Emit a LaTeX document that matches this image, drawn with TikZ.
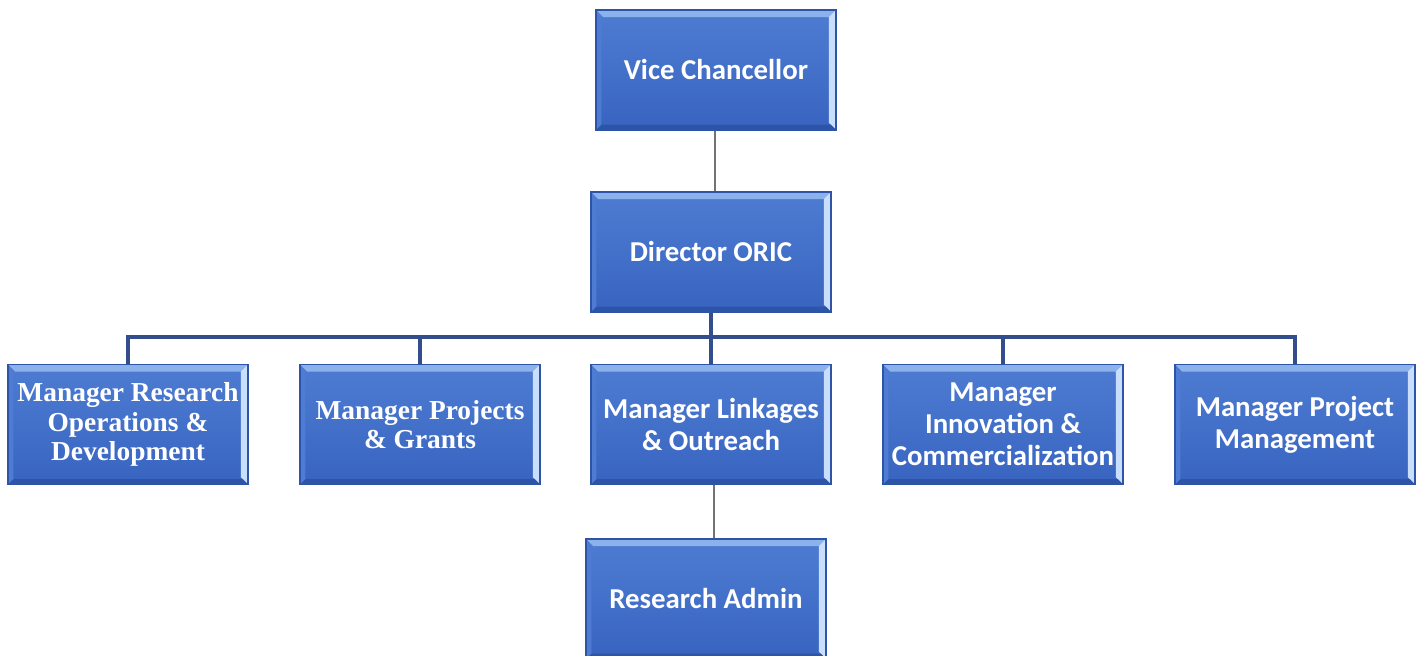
\documentclass[tikz,border=0pt]{standalone}
\usepackage{fontspec}
\setmainfont{Carlito}
\newfontfamily\timesfont{Liberation Serif}
\definecolor{boxblue}{RGB}{56,100,192}
\definecolor{boxtop}{RGB}{78,124,210}
\definecolor{bevellight}{RGB}{140,178,236}
\definecolor{bevelright}{RGB}{200,222,250}
\definecolor{beveldark}{RGB}{46,84,168}
\definecolor{busblue}{RGB}{50,78,140}
\definecolor{stemgray}{RGB}{115,115,115}
\tikzset{
  orgbox/.style={rectangle, minimum width=2.4cm, minimum height=1.2cm,
    top color=boxtop, bottom color=boxblue, draw=beveldark, line width=0.4pt,
    text=white, align=center, inner sep=1pt,
    font=\fontsize{8.2}{9.1}\selectfont\bfseries,
    path picture={
      \fill[bevellight] (path picture bounding box.north west) -- (path picture bounding box.north east)
        -- ([xshift=-2pt,yshift=-2pt]path picture bounding box.north east)
        -- ([xshift=2pt,yshift=-2pt]path picture bounding box.north west) -- cycle;
      \fill[bevelright] (path picture bounding box.north east) -- (path picture bounding box.south east)
        -- ([xshift=-2pt,yshift=2pt]path picture bounding box.south east)
        -- ([xshift=-2pt,yshift=-2pt]path picture bounding box.north east) -- cycle;
      \fill[beveldark] (path picture bounding box.south west) -- (path picture bounding box.south east)
        -- ([xshift=-1.5pt,yshift=1.5pt]path picture bounding box.south east)
        -- ([xshift=1.5pt,yshift=1.5pt]path picture bounding box.south west) -- cycle;
      \fill[boxtop] (path picture bounding box.north west) -- (path picture bounding box.south west)
        -- ([xshift=1.5pt,yshift=1.5pt]path picture bounding box.south west)
        -- ([xshift=1.5pt,yshift=-2pt]path picture bounding box.north west) -- cycle;
    }},
  serifbox/.style={orgbox, font=\timesfont\fontsize{7.8}{8.4}\selectfont\bfseries},
  busline/.style={draw=busblue, line width=1pt},
  stemline/.style={draw=stemgray, line width=0.8pt}
}
\begin{document}
\begin{tikzpicture}
          \useasboundingbox (0,0) rectangle (14.25,-6.56);

          \node[orgbox] (vc) at (7.16,-0.70) {Vice Chancellor};
          \node[orgbox] (dir) at (7.11,-2.52) {Director ORIC};

          \node[serifbox] (mrod) at (1.28,-4.245) {Manager Research\\Operations \&\\Development};
          \node[serifbox] (mpg) at (4.20,-4.245) {Manager Projects\\\& Grants};
          \node[orgbox] (mlo) at (7.11,-4.245) {Manager Linkages\\\& Outreach};
          \node[orgbox] (mic) at (10.03,-4.245) {Manager\\Innovation \&\\Commercialization};
          \node[orgbox] (mpm) at (12.95,-4.245) {Manager Project\\Management};

          \node[orgbox] (ra) at (7.06,-5.99) {Research Admin};

          \coordinate (bus) at (7.11,-3.37);

          \draw[stemline] (vc.south -| dir.north) ++(0.04,0) -- ([xshift=0.04cm]dir.north);
          \draw[busline] (dir.south) -- (mlo.north);
          \draw[busline] (mrod.north) -- (mrod.north |- bus) -- (mpm.north |- bus) -- (mpm.north);
          \draw[busline] (mpg.north) -- (mpg.north |- bus);
          \draw[busline] (mic.north) -- (mic.north |- bus);
          \draw[stemline] ([xshift=0.03cm]mlo.south) -- ([xshift=0.03cm]mlo.south |- ra.north);

        \end{tikzpicture}
\end{document}
